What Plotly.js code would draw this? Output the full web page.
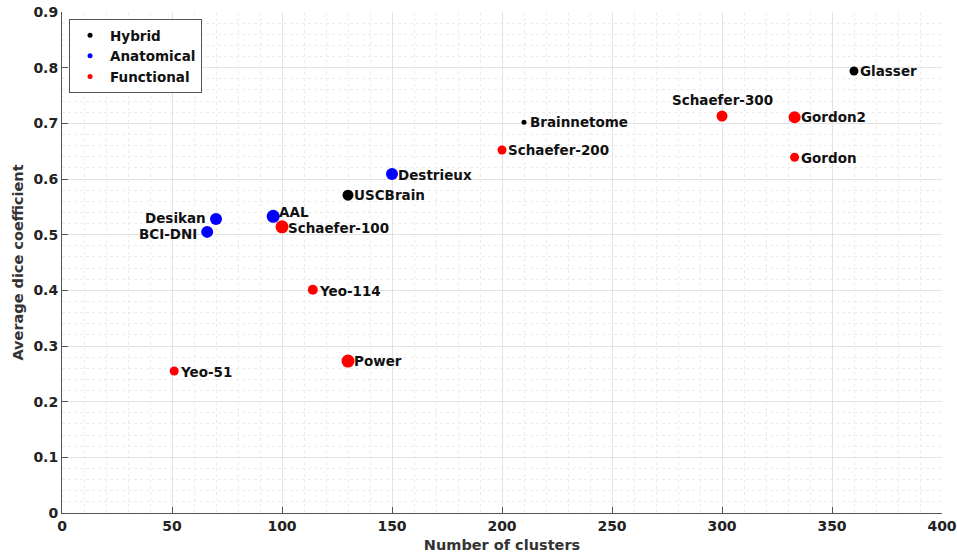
<!DOCTYPE html>
<html>
<head>
<meta charset="utf-8">
<script src="https://cdn.plot.ly/plotly-3.0.1.min.js"></script>
<style>html,body{margin:0;padding:0;background:#fff;}#chart{width:957px;height:557px;}</style>
</head>
<body>
<div id="chart"></div>
<script>
// Hybrid atlases
const hybridNames = ["Glasser", "Brainnetome", "USCBrain"];
const hybridX = [360, 210, 130];
const hybridY = [0.794, 0.702, 0.571];

// Anatomical atlases
const anatNames = ["Destrieux", "Desikan", "BCI-DNI", "AAL"];
const anatX = [150, 70, 66, 96];
const anatY = [0.609, 0.528, 0.505, 0.533];

// Functional atlases
const funcNames = ["Schaefer-100", "Yeo-114", "Power", "Yeo-51", "Schaefer-200", "Schaefer-300", "Gordon2", "Gordon"];
const funcX = [100, 114, 130, 51, 200, 300, 333, 333];
const funcY = [0.514, 0.401, 0.273, 0.255, 0.652, 0.713, 0.711, 0.639];

const legendNames = ["Hybrid", "Anatomical", "Functional"];
const colors = ["#000000", "#0000ff", "#ff0000"];

// styling: marker diameters and label placement [side, yshift]
const hybridSize = [9, 5, 11];
const hybridLbl = [["r", 0], ["r", 0], ["r", 0]];
const anatSize = [12, 12, 12, 13];
const anatLbl = [["r", -1], ["l", 1], ["l", -2], ["r", 4]];
const funcSize = [13, 10, 13, 9, 9, 11, 12, 9];
const funcLbl = [["r", -1], ["r", -1], ["r", 0], ["r", -1], ["r", 0], ["t", 16], ["r", 0], ["r", -1]];

const FONT = "DejaVu Sans, Arial, sans-serif";
const labelFont = {family: FONT, size: 13.5, color: "#111", weight: "bold"};

const data = [];
const annotations = [];
function addGroup(names, xs, ys, sizes, lbl, color) {
  data.push({
    type: "scatter", mode: "markers", x: xs, y: ys,
    marker: {color: color, size: sizes, opacity: 1, line: {width: 0}},
    showlegend: false, hoverinfo: "skip", cliponaxis: false
  });
  names.forEach((n, i) => {
    const side = lbl[i][0];
    annotations.push({
      x: xs[i], y: ys[i], xref: "x", yref: "y", text: n, showarrow: false,
      xanchor: side === "r" ? "left" : (side === "l" ? "right" : "center"),
      yanchor: "middle",
      xshift: side === "r" ? 4 : (side === "l" ? -8 : 0),
      yshift: lbl[i][1],
      font: labelFont
    });
  });
}
addGroup(hybridNames, hybridX, hybridY, hybridSize, hybridLbl, colors[0]);
addGroup(anatNames, anatX, anatY, anatSize, anatLbl, colors[1]);
addGroup(funcNames, funcX, funcY, funcSize, funcLbl, colors[2]);

legendNames.forEach((n, i) => {
  data.push({type: "scatter", mode: "markers", x: [null], y: [null], name: n,
    marker: {color: colors[i], size: 5, opacity: 1}, showlegend: true});
});

const axisCommon = {
  showline: true, linecolor: "#555", linewidth: 1,
  ticks: "inside", ticklen: 6, tickcolor: "#555",
  showgrid: true, gridcolor: "#e3e3e3", gridwidth: 1,
  zeroline: false, mirror: false,
  tickfont: {family: FONT, size: 14, color: "#222", weight: "bold"}
};

const layout = {
  width: 957, height: 557,
  margin: {l: 62, r: 15, t: 12, b: 44},
  paper_bgcolor: "#fff", plot_bgcolor: "#fff",
  xaxis: Object.assign({}, axisCommon, {
    range: [0, 400], dtick: 50, tick0: 0,
    minor: {dtick: 10, showgrid: true, gridcolor: "#ececec", griddash: "dot", ticks: ""},
    title: {text: "Number of clusters", standoff: 7,
      font: {family: FONT, size: 14.5, color: "#333", weight: "bold"}}
  }),
  yaxis: Object.assign({}, axisCommon, {
    range: [0, 0.9], dtick: 0.1, tick0: 0,
    minor: {dtick: 0.02, showgrid: true, gridcolor: "#ececec", griddash: "dot", ticks: ""},
    title: {text: "Average dice coefficient", standoff: 6,
      font: {family: FONT, size: 14.5, color: "#333", weight: "bold"}}
  }),
  legend: {
    x: 0.008, y: 0.986, xanchor: "left", yanchor: "top",
    bgcolor: "#fff", bordercolor: "#555", borderwidth: 1,
    font: {family: FONT, size: 13.5, color: "#111", weight: "bold"},
    itemwidth: 30, tracegroupgap: 0
  },
  annotations: annotations,
  showlegend: true
};

Plotly.newPlot("chart", data, layout, {displayModeBar: false, staticPlot: true});
</script>
</body>
</html>
